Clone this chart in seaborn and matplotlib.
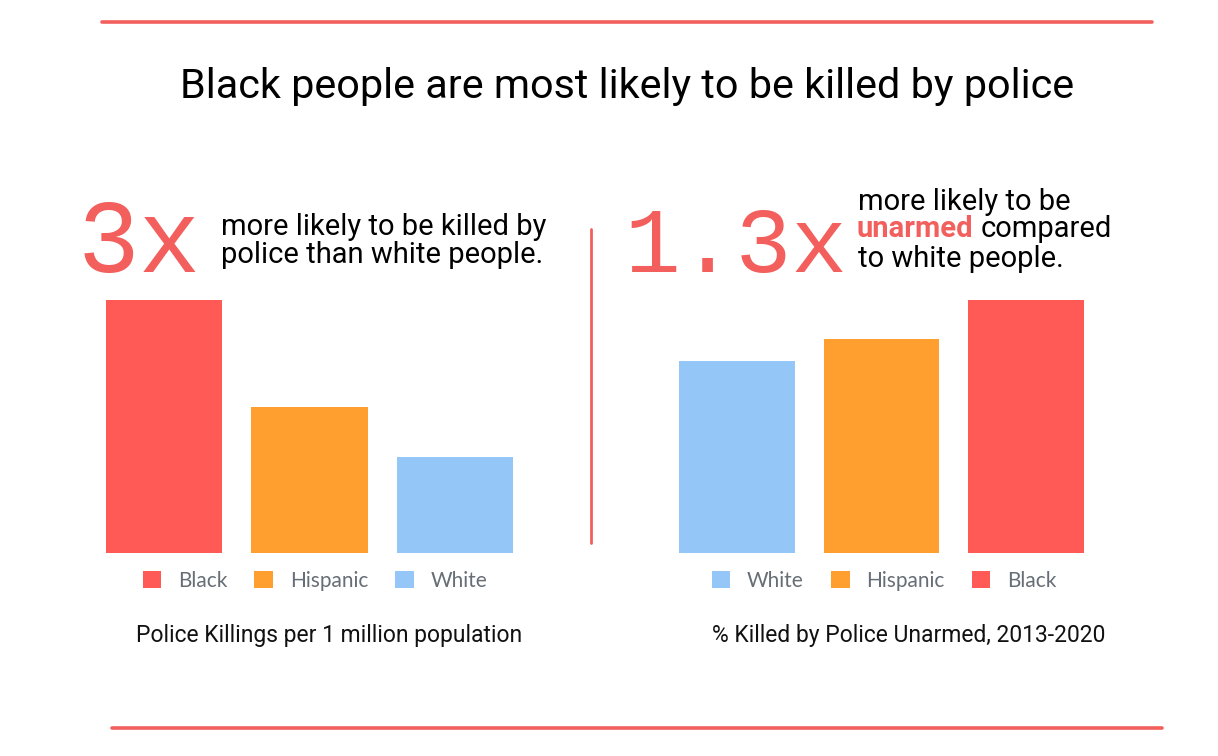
import matplotlib
matplotlib.use('Agg')
import matplotlib.pyplot as plt
import seaborn as sns
import pandas as pd
from matplotlib.patches import Patch
from matplotlib.lines import Line2D

# police killings per 1 million population
rate_groups = ['Black', 'Hispanic', 'White']
rate_values = [6.6, 3.8, 2.5]

# % killed by police unarmed, 2013-2020
unarmed_groups = ['White', 'Hispanic', 'Black']
unarmed_values = [12.9, 14.4, 17.0]

colors = {'Black': '#FF5A55', 'Hispanic': '#FF9F30', 'White': '#94C6F7'}
accent = '#F25F5C'

sns.set_theme(style='white')
plt.rcParams['font.family'] = ['Roboto', 'DejaVu Sans']

W, H = 1218, 756
fig = plt.figure(figsize=(W / 100, H / 100), dpi=100)


def fx(px):
    return px / W


def fy(py):
    return 1 - py / H


ax1 = fig.add_axes([fx(91.25), fy(553), (527.75 - 91.25) / W, 253 / H])
ax2 = fig.add_axes([fx(664.75), fy(553), (1098.25 - 664.75) / W, 253 / H])

panels = [
    (ax1, rate_groups, rate_values, 315, 'Police Killings per 1 million population', 329),
    (ax2, unarmed_groups, unarmed_values, 884, '% Killed by Police Unarmed, 2013-2020', 909),
]
for ax, groups, vals, leg_x, caption, cap_x in panels:
    df = pd.DataFrame({'group': groups, 'value': vals})
    sns.barplot(data=df, x='group', y='value', hue='group', palette=colors,
                width=0.8, saturation=1, legend=False, linewidth=0, ax=ax)
    ax.set_xlim(-0.5, 2.5)
    ax.set_ylim(0, max(vals))
    ax.axis('off')
    handles = [Patch(facecolor=colors[g], edgecolor='none', label=g) for g in groups]
    leg = fig.legend(handles=handles, loc='center', bbox_to_anchor=(fx(leg_x), fy(581)),
                     ncol=3, frameon=False, handlelength=0.9, handleheight=0.9,
                     handletextpad=0.8, columnspacing=1.3,
                     prop={'family': 'Lato', 'size': 15})
    for t in leg.get_texts():
        t.set_color('#666E76')
    fig.text(fx(cap_x), fy(642), caption, ha='center', va='baseline',
             fontsize=16.5, color='#111111')

# title and rules
fig.text(fx(627), fy(98), 'Black people are most likely to be killed by police',
         ha='center', va='baseline', fontsize=29.8, color='black')
fig.add_artist(Line2D([fx(102), fx(1152)], [fy(22), fy(22)], color='#F25F5C', lw=2.6))
fig.add_artist(Line2D([fx(112), fx(1162)], [fy(728), fy(728)], color='#F25F5C', lw=2.6))
fig.add_artist(Line2D([fx(591), fx(591)], [fy(229), fy(543)], color='#F25F5C', lw=2))

# callouts
fig.text(fx(78), fy(272), '3x', fontsize=74, family='Liberation Mono',
         color=accent, va='baseline', ha='left')
fig.text(fx(221), fy(235), 'more likely to be killed by', fontsize=21,
         va='baseline', color='black')
fig.text(fx(221), fy(263), 'police than white people.', fontsize=21,
         va='baseline', color='black')

fig.text(fx(624), fy(272), '1.3x', fontsize=67, family='Liberation Mono',
         color=accent, va='baseline', ha='left')
fig.text(fx(858), fy(210), 'more likely to be', fontsize=21, va='baseline', color='black')
un = fig.text(fx(857), fy(237), 'unarmed', fontsize=21, fontweight='bold',
              va='baseline', color=accent)
fig.canvas.draw()
un_right = un.get_window_extent().x1
fig.text((un_right + 7) / W, fy(237), 'compared', fontsize=21, va='baseline', color='black')
fig.text(fx(858), fy(267), 'to white people.', fontsize=21, va='baseline', color='black')

fig.savefig('out.png', dpi=100, facecolor='white')
